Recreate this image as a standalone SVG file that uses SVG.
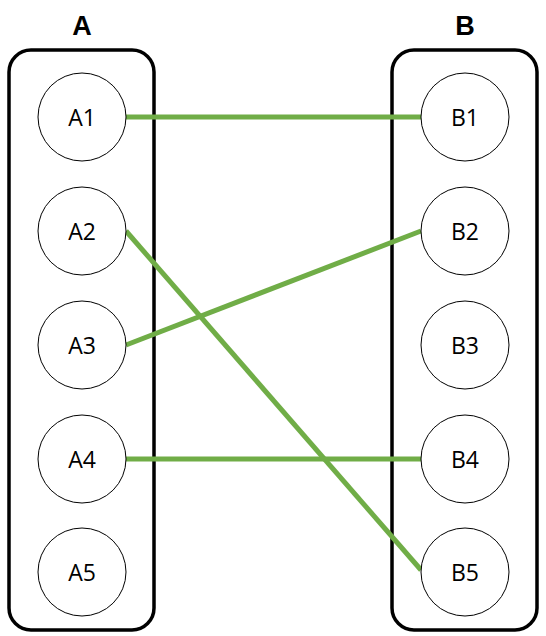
<svg xmlns="http://www.w3.org/2000/svg" width="546" height="636" viewBox="0 0 546 636">
<style>
.box{fill:none;stroke:#000;stroke-width:3.5}
.node circle{fill:#fff;stroke:#000;stroke-width:1}
.node text{font-family:"Open Sans","Liberation Sans",sans-serif;font-size:23px;text-anchor:middle;dominant-baseline:central;fill:#000}
.title{font-family:"Liberation Sans",Arial,sans-serif;font-size:27px;font-weight:bold;text-anchor:middle;fill:#000}
.edge{stroke:#70AD47;stroke-width:5;fill:none}
</style>
<rect width="546" height="636" fill="#fff"/>
<g id="groupA">
<rect class="box" x="9" y="50" width="145" height="580" rx="22"/>
<text class="title" x="82" y="35">A</text>
</g>
<g id="groupB">
<rect class="box" x="392" y="50" width="145" height="580" rx="22"/>
<text class="title" x="465" y="35">B</text>
</g>
<g id="connectors">
<line class="edge" x1="126" y1="117" x2="421" y2="117"/>
<line class="edge" x1="126" y1="231" x2="421" y2="570"/>
<line class="edge" x1="126" y1="345" x2="421" y2="231"/>
<line class="edge" x1="126" y1="459" x2="421" y2="459"/>
</g>
<g id="A1" class="node"><circle cx="82" cy="117" r="44"/><text x="82" y="117">A1</text></g>
<g id="A2" class="node"><circle cx="82" cy="231" r="44"/><text x="82" y="231">A2</text></g>
<g id="A3" class="node"><circle cx="82" cy="345" r="44"/><text x="82" y="345">A3</text></g>
<g id="A4" class="node"><circle cx="82" cy="459" r="44"/><text x="82" y="459">A4</text></g>
<g id="A5" class="node"><circle cx="82" cy="572" r="44"/><text x="82" y="572">A5</text></g>
<g id="B1" class="node"><circle cx="465" cy="117" r="44"/><text x="465" y="117">B1</text></g>
<g id="B2" class="node"><circle cx="465" cy="231" r="44"/><text x="465" y="231">B2</text></g>
<g id="B3" class="node"><circle cx="465" cy="345" r="44"/><text x="465" y="345">B3</text></g>
<g id="B4" class="node"><circle cx="465" cy="459" r="44"/><text x="465" y="459">B4</text></g>
<g id="B5" class="node"><circle cx="465" cy="572" r="44"/><text x="465" y="572">B5</text></g>
</svg>
